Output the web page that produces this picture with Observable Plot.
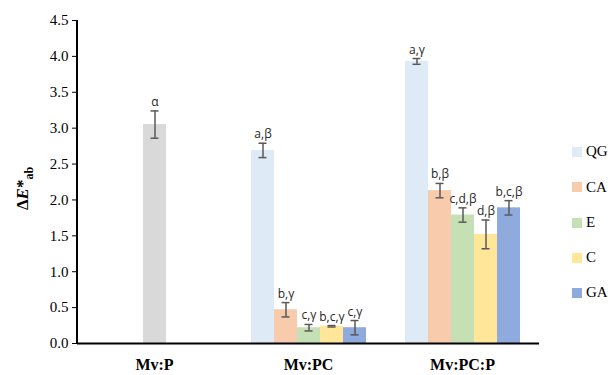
<!DOCTYPE html>
<html>
<head>
<meta charset="utf-8">
<script src="https://cdn.jsdelivr.net/npm/d3@7"></script>
<script src="https://cdn.jsdelivr.net/npm/@observablehq/plot@0.6"></script>
<style>
  body { margin: 0; background: #fff; }
  #wrap { position: relative; width: 615px; height: 375px; }
  .legend { position: absolute; left: 572px; top: 0; font-family: "Liberation Serif", "Times New Roman", serif; font-size: 15px; color: #000; }
  .legend .item { position: absolute; left: 0; display: flex; align-items: center; white-space: nowrap; }
  .legend .sw { width: 10px; height: 10px; margin-right: 4px; }
</style>
</head>
<body>
<div id="wrap"></div>
<script>
const groups = ["Mv:P", "Mv:PC", "Mv:PC:P"];
const series = ["QG", "CA", "E", "C", "GA"];
const colors = ["#deebf7", "#f8cbad", "#c5e0b4", "#ffe699", "#8faadc"];
const controlColor = "#d9d9d9";

const controlMean = 3.05;
const controlErr = 0.19;
const controlLabel = "α";

const pcMeans = [2.69, 0.47, 0.22, 0.24, 0.22];
const pcErrs = [0.10, 0.10, 0.045, 0.01, 0.10];
const pcLabels = ["a,β", "b,γ", "c,γ", "b,c,γ", "c,γ"];

const pcpMeans = [3.93, 2.13, 1.79, 1.52, 1.89];
const pcpErrs = [0.04, 0.10, 0.10, 0.20, 0.10];
const pcpLabels = ["a,γ", "b,β", "c,d,β", "d,β", "b,c,β"];

const yTicks = [0, 0.5, 1, 1.5, 2, 2.5, 3, 3.5, 4, 4.5];

// build rows
const rows = [];
rows.push({group: groups[0], series: "P", slot: series[2], mean: controlMean, err: controlErr, label: controlLabel});
series.forEach((s, i) => rows.push({group: groups[1], series: s, slot: s, mean: pcMeans[i], err: pcErrs[i], label: pcLabels[i]}));
series.forEach((s, i) => rows.push({group: groups[2], series: s, slot: s, mean: pcpMeans[i], err: pcpErrs[i], label: pcpLabels[i]}));

const errColor = "#595959";
const serif = "'Liberation Serif', 'Times New Roman', serif";

const plot = Plot.plot({
  width: 615,
  height: 375,
  marginLeft: 77,
  marginRight: 76,
  marginTop: 20,
  marginBottom: 32,
  style: {fontFamily: serif, background: "#fff"},
  fx: {domain: groups, padding: 0, label: null, axis: null},
  x: {domain: series, paddingInner: 0, paddingOuter: 0.75, axis: null},
  y: {domain: [0, 4.5], label: null, axis: null},
  color: {domain: ["P", ...series], range: [controlColor, ...colors]},
  marks: [
    Plot.barY(rows, {fx: "group", x: "slot", y: "mean", fill: "series"}),
    Plot.ruleX(rows, {fx: "group", x: "slot", y1: d => d.mean - d.err, y2: d => d.mean + d.err, stroke: errColor, strokeWidth: 1.5}),
    Plot.tickY(rows, {fx: "group", x: "slot", y: d => d.mean + d.err, stroke: errColor, strokeWidth: 1.5, insetLeft: 7.5, insetRight: 7.5}),
    Plot.tickY(rows, {fx: "group", x: "slot", y: d => d.mean - d.err, stroke: errColor, strokeWidth: 1.5, insetLeft: 7.5, insetRight: 7.5}),
    Plot.text(rows, {fx: "group", x: "slot", y: d => d.mean + d.err, text: "label", lineAnchor: "bottom", dy: -5,
      fontFamily: "'Open Sans', 'Liberation Sans', Arial, sans-serif", fontSize: 12, fill: "#262626"}),
    Plot.ruleY([0], {stroke: "#000", strokeWidth: 2}),
    Plot.axisY({ticks: yTicks, tickFormat: d3.format(".1f"), tickSize: 5, tickPadding: 4, fontSize: 15,
      fontFamily: serif, color: "#000", label: null}),
    Plot.axisFx({anchor: "bottom", tickSize: 0, tickPadding: 15, fontSize: 16, fontWeight: "bold",
      fontFamily: serif, label: null, color: "#000"})
  ]
});

const wrap = document.getElementById("wrap");
wrap.appendChild(plot);

// y axis domain line and rich y label
const svg = d3.select(plot);
const ys = plot.scale("y");
svg.append("line")
  .attr("x1", 77).attr("x2", 77)
  .attr("y1", ys.apply(4.5)).attr("y2", ys.apply(0) + 1)
  .attr("stroke", "#000").attr("stroke-width", 2);

const lab = svg.append("text")
  .attr("transform", `translate(28, ${(ys.apply(0) + ys.apply(4.5)) / 2 + 7}) rotate(-90)`)
  .attr("text-anchor", "middle")
  .attr("font-family", serif)
  .attr("font-size", 17)
  .attr("font-weight", "bold")
  .attr("fill", "#000");
lab.append("tspan").text("Δ");
lab.append("tspan").attr("font-style", "italic").text("E");
lab.append("tspan").text("*");
lab.append("tspan").attr("font-size", 12).attr("dy", 5).text("ab");

// legend
const leg = document.createElement("div");
leg.className = "legend";
const legTops = [152, 187.5, 223, 258, 293];
series.forEach((s, i) => {
  const it = document.createElement("div");
  it.className = "item";
  it.style.top = (legTops[i] - 9) + "px";
  it.innerHTML = `<span class="sw" style="background:${colors[i]}"></span><span>${s}</span>`;
  leg.appendChild(it);
});
wrap.appendChild(leg);
</script>
</body>
</html>
